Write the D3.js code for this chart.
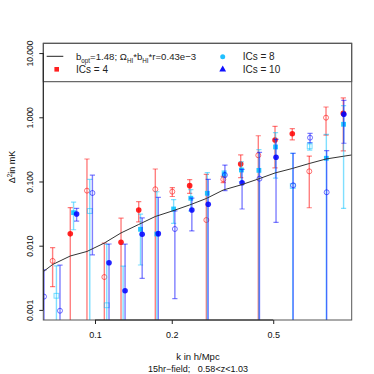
<!DOCTYPE html>
<html>
<head>
<meta charset="utf-8">
<script src="https://cdn.jsdelivr.net/npm/d3@7"></script>
<style>
  body { margin: 0; background: #fff; }
  svg { font-family: "Liberation Sans", Arial, sans-serif; }
</style>
</head>
<body>
<div id="chart"></div>
<script>
    // k bins (h/Mpc), read at the ICs = 4 position
    var kBins = [0.0584, 0.0682, 0.0800, 0.0930, 0.1088, 0.1265, 0.1484, 0.1724, 0.2010, 0.2351,
                 0.2733, 0.3185, 0.3727, 0.4369, 0.5081, 0.5939, 0.6924, 0.8053, 0.9413];

    // signed values: negative values are drawn as open symbols at |value|
    var ics4 = [null, -0.0058, 0.0153, -0.072, -0.00325, 0.0113, 0.036, -0.0756, -0.0694, 0.0861,
                -0.0251, -0.108, 0.187, -0.256, 0.443, 0.555, -0.144, -0.986, 1.15];
    var ics4Err = [null, 0.0035, 0.024, 0.152, 0.0077, 0.0155, 0.0125, 0.081, 0.011, 0.021,
                   0.104, 0.012, 0.072, 0.26, 0.28, 0.11, 0.105, 0.46, 0.85];

    var ics8 = [null, -0.00166, 0.0327, -0.0347, -0.00118, -0.0005, 0.018, 0.0152, 0.0373, 0.0548,
                0.0655, 0.132, 0.151, 0.149, 0.345, -0.085, -0.353, 0.230, 0.778];
    var ics8Err = [null, 0.0032, 0.015, 0.073, 0.0093, 0.0043, 0.013, 0.054, 0.015, 0.02,
                   0.072, 0.015, 0.052, 0.164, 0.232, 0.19, 0.045, 0.31, 0.74];

    var ics10 = [-0.00161, -0.00097, 0.0312, -0.0662, 0.00543, 0.00199, 0.0151, 0.0154, -0.0182, 0.036,
                 0.0441, -0.126, 0.0958, -0.1106, 0.238, -0.0873, -0.481, -0.0679, 1.114];
    var ics10Err = [0.0026, 0.004, 0.007, 0.059, 0.0052, 0.0086, 0.012, 0.041, 0.0167, 0.019,
                    0.064, 0.054, 0.0585, 0.174, 0.215, 0.188, 0.08, 0.234, 0.72];

    // model curve
    var modelK = kBins.concat([1.10]);
    var modelVal = [0.00318, 0.00509, 0.00691, 0.00813, 0.0110, 0.0158, 0.0214, 0.0285, 0.0347, 0.0431,
                    0.0543, 0.0737, 0.0882, 0.1093, 0.1357, 0.1594, 0.1906, 0.224, 0.247, 0.272];

    var xTicks = [0.1, 0.2, 0.5];
    var yTicks = [0.001, 0.01, 0.1, 1, 10];

    var series = [
      { name: "ICs = 4", vals: ics4, errs: ics4Err, dk: 0, color: "#ff0000", shape: "circle" },
      { name: "ICs = 8", vals: ics8, errs: ics8Err, dk: 0.0024, color: "#00bfff", shape: "square" },
      { name: "ICs = 10", vals: ics10, errs: ics10Err, dk: 0.0047, color: "#0000ff", shape: "circle" }
    ];

    // Set up the chart dimensions
    var W = 374, H = 374;
    var pLeft = 43.3, pRight = 351.7, pTop = 43.3, pBottom = 320;

    var svg = d3.select("#chart").append("svg")
      .attr("width", W)
      .attr("height", H);

    var x = d3.scaleLog().domain([0.0627, 1.0155]).range([pLeft, pRight]);
    var y = d3.scaleLog().domain([0.000696, 14.2]).range([pBottom, pTop]);

    svg.append("clipPath").attr("id", "plot-clip")
      .append("rect")
      .attr("x", pLeft).attr("y", pTop)
      .attr("width", pRight - pLeft).attr("height", pBottom - pTop);

    var plot = svg.append("g").attr("clip-path", "url(#plot-clip)");

    // Draw error bars and points for each series
    series.forEach(function (s) {
      var pts = kBins.map(function (k, i) {
        return { k: k + s.dk, v: s.vals[i], e: s.errs[i] };
      }).filter(function (d) { return d.v !== null; });

      var g = plot.append("g");

      pts.forEach(function (d) {
        var a = Math.abs(d.v);
        var px = x(d.k);
        var yHi = y(a + d.e);
        var hasLow = a - d.e > 0;
        var yLo = hasLow ? y(a - d.e) : pBottom + 10;
        g.append("line")
          .attr("x1", px).attr("x2", px)
          .attr("y1", yHi).attr("y2", yLo)
          .attr("stroke", s.color).attr("stroke-opacity", 0.5)
          .attr("stroke-width", 1.4);
        g.append("line")
          .attr("x1", px - 2.6).attr("x2", px + 2.6)
          .attr("y1", yHi).attr("y2", yHi)
          .attr("stroke", s.color).attr("stroke-opacity", 0.5)
          .attr("stroke-width", 1.2);
        if (hasLow) {
          g.append("line")
            .attr("x1", px - 2.6).attr("x2", px + 2.6)
            .attr("y1", yLo).attr("y2", yLo)
            .attr("stroke", s.color).attr("stroke-opacity", 0.5)
            .attr("stroke-width", 1.2);
        }
      });

      pts.forEach(function (d) {
        var a = Math.abs(d.v);
        var open = d.v < 0;
        var px = x(d.k), py = y(a);
        var m;
        if (s.shape === "square") {
          m = g.append("rect")
            .attr("x", px - 2.4).attr("y", py - 2.4)
            .attr("width", 4.8).attr("height", 4.8);
        } else {
          m = g.append("circle")
            .attr("cx", px).attr("cy", py)
            .attr("r", open ? 2.5 : 2.8);
        }
        if (open) {
          m.attr("fill", "none")
            .attr("stroke", s.color).attr("stroke-opacity", 0.55)
            .attr("stroke-width", 1);
        } else {
          m.attr("fill", s.color).attr("fill-opacity", 0.85);
        }
      });
    });

    // Model line
    var line = d3.line()
      .x(function (d, i) { return x(modelK[i]); })
      .y(function (d) { return y(d); });

    plot.append("path")
      .datum(modelVal)
      .attr("d", line)
      .attr("fill", "none")
      .attr("stroke", "#333")
      .attr("stroke-width", 1);

    // Legend (inside the plot top)
    var leg = svg.append("g");
    leg.append("rect")
      .attr("x", pLeft).attr("y", pTop)
      .attr("width", pRight - pLeft).attr("height", 81.7 - pTop)
      .attr("fill", "#fff")
      .attr("stroke", "#444").attr("stroke-width", 1);

    leg.append("line")
      .attr("x1", 46.7).attr("x2", 63.3)
      .attr("y1", 56.3).attr("y2", 56.3)
      .attr("stroke", "#222").attr("stroke-width", 1);

    var t1 = leg.append("text")
      .attr("x", 76).attr("y", 60)
      .attr("font-size", 9.6).attr("fill", "#222");
    t1.append("tspan").text("b");
    t1.append("tspan").attr("font-size", 6.3).attr("dy", 2.5).text("opt");
    t1.append("tspan").attr("dy", -2.5).text("=1.48; \u03A9");
    t1.append("tspan").attr("font-size", 6.3).attr("dy", 2.5).text("HI");
    t1.append("tspan").attr("dy", -2.5).text("*b");
    t1.append("tspan").attr("font-size", 6.3).attr("dy", 2.5).text("HI");
    t1.append("tspan").attr("dy", -2.5).text("*r=0.43e\u22123");

    leg.append("rect")
      .attr("x", 54.4).attr("y", 67)
      .attr("width", 4.6).attr("height", 4.6)
      .attr("fill", "#ff2020");
    leg.append("text")
      .attr("x", 76).attr("y", 73.3)
      .attr("font-size", 10).attr("fill", "#222")
      .text("ICs = 4");

    leg.append("circle")
      .attr("cx", 222.7).attr("cy", 56.7).attr("r", 2.5)
      .attr("fill", "#20c0ff");
    leg.append("text")
      .attr("x", 242.7).attr("y", 60)
      .attr("font-size", 10).attr("fill", "#222")
      .text("ICs = 8");

    leg.append("path")
      .attr("d", d3.symbol().type(d3.symbolTriangle).size(20)())
      .attr("transform", "translate(222.7,69.5)")
      .attr("fill", "#1010ff");
    leg.append("text")
      .attr("x", 242.7).attr("y", 73.3)
      .attr("font-size", 10).attr("fill", "#222")
      .text("ICs = 10");

    // Plot box
    svg.append("rect")
      .attr("x", pLeft).attr("y", pTop)
      .attr("width", pRight - pLeft).attr("height", pBottom - pTop)
      .attr("fill", "none")
      .attr("stroke", "#555").attr("stroke-width", 1);

    // Draw x-axis
    var xAxis = d3.axisBottom(x)
      .tickValues(xTicks)
      .tickFormat(d3.format(".1f"))
      .tickSize(4)
      .tickPadding(8);
    var gx = svg.append("g")
      .attr("transform", "translate(0," + pBottom + ")")
      .call(xAxis);
    gx.select(".domain").remove();
    gx.append("line")
      .attr("x1", x(0.1)).attr("x2", x(0.5))
      .attr("stroke", "#222");
    gx.selectAll("text").attr("font-size", 9).attr("fill", "#111");
    gx.selectAll(".tick line").attr("stroke", "#222");

    // Draw y-axis
    var yAxis = d3.axisLeft(y)
      .tickValues(yTicks)
      .tickFormat(d3.format(".3f"))
      .tickSize(4);
    var gy = svg.append("g")
      .attr("transform", "translate(" + pLeft + ",0)")
      .call(yAxis);
    gy.select(".domain").remove();
    gy.append("line")
      .attr("y1", y(0.001)).attr("y2", y(10))
      .attr("stroke", "#222");
    gy.selectAll(".tick line").attr("stroke", "#222");
    gy.selectAll("text")
      .attr("transform", "rotate(-90)")
      .attr("x", 0).attr("y", -10).attr("dy", 0)
      .style("text-anchor", "middle")
      .attr("font-size", 8.5).attr("fill", "#111");

    // Axis titles
    svg.append("text")
      .attr("x", 198).attr("y", 360)
      .attr("text-anchor", "middle")
      .attr("font-size", 9.5).attr("fill", "#111")
      .text("k in h/Mpc");
    svg.append("text")
      .attr("x", 198).attr("y", 371.5)
      .attr("text-anchor", "middle")
      .attr("font-size", 9).attr("fill", "#111")
      .attr("xml:space", "preserve")
      .style("white-space", "pre")
      .text("15hr\u2212field;   0.58<z<1.03");

    var yl = svg.append("text")
      .attr("transform", "translate(15,167) rotate(-90)")
      .attr("text-anchor", "middle")
      .attr("font-size", 9).attr("fill", "#111");
    yl.append("tspan").text("\u0394");
    yl.append("tspan").attr("font-size", 6.5).attr("dy", -3.5).text("2");
    yl.append("tspan").attr("dy", 3.5).text("in mK");
</script>
</body>
</html>
